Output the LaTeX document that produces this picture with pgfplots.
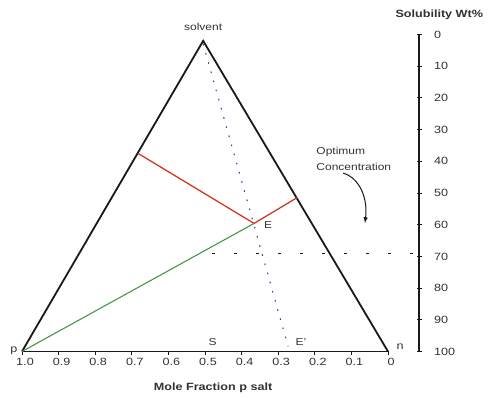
\documentclass[border=0pt]{standalone}
\usepackage{fontspec}
\setmainfont{Liberation Sans}[FakeStretch=1.2]
\usepackage{pgfplots}
\pgfplotsset{compat=1.18}
\definecolor{tri}{RGB}{25,25,25}
\definecolor{redl}{RGB}{210,55,35}
\definecolor{greenl}{RGB}{70,150,70}
\definecolor{bluel}{RGB}{50,60,170}
\definecolor{txt}{RGB}{50,50,50}
\begin{document}
\begin{tikzpicture}[x=1pt,y=1pt]
\begin{axis}[
  x=366pt, y=3.17pt, anchor=origin, at={(22pt,46.5pt)},
  xmin=0, xmax=1, ymin=0, ymax=100, clip=false,
  axis x line=bottom, axis y line=none,
  axis line style={-, line width=1.6pt, tri},
  xtick={0,0.1,0.2,0.3,0.4,0.5,0.6,0.7,0.8,0.9,1},
  xticklabels={1.0,0.9,0.8,0.7,0.6,0.5,0.4,0.3,0.2,0.1,0},
  tick align=outside, major tick length=4pt,
  tick style={line width=0.8pt, tri},
  xticklabel style={font=\fontsize{10.5}{12}\selectfont, text=txt, xshift=3pt, yshift=1pt},
  /pgf/number format/assume math mode=true,
  xlabel={\bfseries Mole Fraction p salt},
  xlabel style={at={(ticklabel cs:0.522)}, anchor=north, yshift=-11pt,
    font=\fontsize{10.5}{12}\selectfont, text=txt},
]
\addplot[tri, line width=1.8pt, line join=miter] coordinates {(0,0) (0.495,98) (1,0)};
\addplot[redl, line width=1.3pt] coordinates {(0.317,62.5) (0.634,40.4) (0.751,48.5)};
\addplot[greenl, line width=1.1pt] coordinates {(0,0) (0.634,40.4)};
\addplot[bluel, line width=1.1pt, dash pattern=on 1.5pt off 8pt] coordinates {(0.495,97) (0.727,1.6)};
\addplot[tri, line width=1.1pt, dash pattern=on 3pt off 19pt] coordinates {(0.52,30.8) (1.085,30.8)};
\node[anchor=south, font=\fontsize{10}{12}\selectfont, text=txt] at (axis cs:0.495,100) {solvent};
\node[anchor=west, font=\fontsize{10}{12}\selectfont, text=txt] at (axis cs:0.652,40) {E};
\node[font=\fontsize{10}{12}\selectfont, text=txt] at (axis cs:0.521,3.0) {S};
\node[font=\fontsize{10}{12}\selectfont, text=txt] at (axis cs:0.762,3.0) {E'};
\node[font=\fontsize{10.5}{12}\selectfont, text=txt] at (axis cs:-0.022,0.3) {p};
\node[font=\fontsize{10.5}{12}\selectfont, text=txt] at (axis cs:1.033,1.5) {n};
\node[anchor=west, font=\fontsize{10}{12}\selectfont, text=txt, inner sep=0pt] at (axis cs:0.804,63) {Optimum};
\node[anchor=west, font=\fontsize{10}{12}\selectfont, text=txt, inner sep=0pt] at (axis cs:0.804,58.3) {Concentration};
\draw[-latex, tri, line width=1pt] (axis cs:0.877,56.3) .. controls (axis cs:0.925,54.6) and (axis cs:0.945,48) .. (axis cs:0.937,40.5);
\end{axis}
\begin{axis}[
  x=366pt, y=3.17pt, anchor=origin, at={(22pt,46.5pt)},
  xmin=0, xmax=1.085, ymin=0, ymax=100,
  axis x line=none, axis y line=right,
  axis line style={-, line width=1.3pt, tri},
  ytick={0,10,20,30,40,50,60,70,80,90,100},
  yticklabels={100,90,80,70,60,50,40,30,20,10,0},
  tick align=center, major tick length=5pt,
  tick style={line width=0.8pt, tri},
  yticklabel style={font=\fontsize{10.5}{12}\selectfont, text=txt, xshift=9pt},
  /pgf/number format/assume math mode=true,
]
\addplot[draw=none] coordinates {(0.5,50)};
\end{axis}
\node[anchor=west, font=\bfseries\fontsize{10.5}{12}\selectfont, text=txt] at (392,383) {Solubility Wt\%};
\pgfresetboundingbox
\useasboundingbox (0,0) rectangle (493,398);
\end{tikzpicture}
\end{document}
